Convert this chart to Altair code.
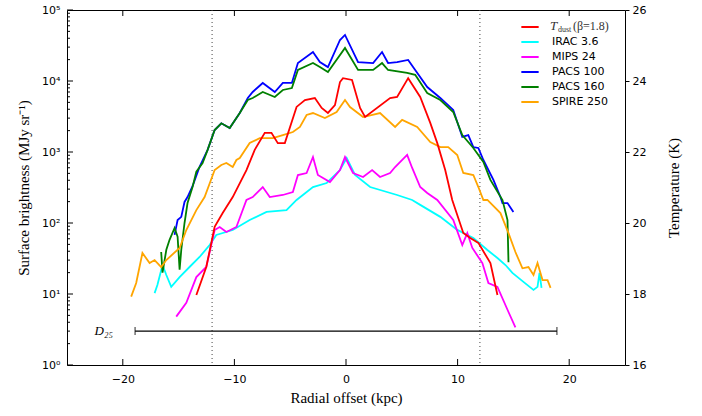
import altair as alt
import pandas as pd

# ---------------- data ----------------
irac_x = [-17.15, -16.9, -16.44, -16.1, -15.66, -14.91, -14.02, -13.12, -12.22, -11.62, -10.15, -8.63, -7.12,
          -5.33, -4.43, -2.96, -1.73, -0.54, 0.06, 0.81, 2.16, 4.58, 5.93, 6.65, 8.45, 9.97, 11.41, 12.67,
          13.57, 14.29, 14.91, 15.9, 16.8, 17.16, 17.34, 17.52]
irac_v = [10.3, 13.4, 25.6, 18.5, 12.6, 17.3, 24, 33.2, 49, 67.8, 79.6, 110, 143, 152, 211, 321, 366, 557, 822,
          474, 321, 248, 211, 180, 122, 80, 61.5, 41.7, 32.1, 25.6, 19.8, 14.8, 11.4, 12.6, 19.8, 12.2]

mips_x = [-15.21, -14.31, -13.41, -12.52, -11.77, -11.32, -10.72, -9.82, -8.92, -8.36, -7.46, -6.83, -5.66, -4.76,
          -4.31, -3.53, -2.96, -2.52, -1.44, -0.54, -0.09, 0.63, 1.53, 2.34, 3.05, 3.95, 4.40, 5.48, 5.93, 6.65,
          7.28, 8.18, 9.61, 10.42, 10.87, 11.32, 12.22, 12.76, 13.57, 14.47, 15.18]
mips_v = [4.8, 7.5, 17.3, 24, 79.6, 87.9, 74.6, 87.9, 211, 232, 321, 232, 248, 273, 474, 506, 851, 474, 378, 557,
          851, 506, 445, 557, 445, 506, 615, 908, 596, 321, 265, 211, 110, 49, 72, 44.5, 27.3, 14.3, 12.6, 6, 3.4]

pacs100_x = [-15.36, -15.09, -14.76, -14.47, -14.2, -13.75, -13.12, -12.4, -11.77, -11.17, -10.42, -9.52, -8.8,
             -8.36, -7.46, -6.38, -5.66, -4.85, -4.31, -2.96, -2.34, -1.62, -0.54, -0.09, 1.08, 2.43, 3.23, 3.77,
             4.58, 5.57, 6.2, 7.28, 8.45, 9.61, 10.42, 10.96, 11.41, 11.86, 12.31, 13.21, 13.84, 14.02, 14.47, 15.0]
pacs100_v = [68, 110, 122, 198, 232, 330, 620, 1070, 2040, 2540, 2180, 3540, 5770, 7000, 9380, 7000, 9380, 9380,
             17900, 25600, 18500, 15700, 37800, 44500, 18500, 17900, 25600, 17900, 18500, 19800, 14300, 8220,
             5770, 3910, 1630, 1730, 1170, 1140, 771, 404, 232, 191, 191, 143]

pacs160_x = [-16.56, -16.44, -16.1, -15.81, -15.36, -15.09, -14.91, -14.76, -14.47, -14.2, -13.75, -13.41, -12.85,
             -12.4, -11.77, -11.17, -10.42, -9.52, -8.8, -8.36, -7.46, -6.38, -5.66, -4.85, -4.31, -2.96, -2.34,
             -1.62, -0.09, 1.08, 2.43, 3.23, 3.77, 5.48, 6.2, 7.28, 8.45, 9.61, 10.42, 11.41, 12.31, 12.94, 14.02,
             14.47, 14.56]
pacs160_v = [39, 20, 42, 58, 85, 64, 22, 42, 100, 191, 321, 528, 700, 1070, 2040, 2540, 2180, 3540, 5400, 5770,
             7000, 5960, 7470, 7960, 14300, 17900, 15700, 13400, 29200, 14300, 14300, 17900, 14300, 13000, 12200,
             6780, 5400, 3660, 1730, 1140, 723, 404, 211, 110, 28]

spire_x = [-19.25, -18.8, -18.24, -17.6, -17.15, -16.56, -16.1, -14.91, -14.31, -13.41, -12.67, -11.77, -11.17,
           -10.72, -10.15, -9.82, -9.52, -8.63, -7.73, -6.56, -5.66, -4.76, -4.13, -3.53, -2.96, -1.89, -0.84,
           -0.09, 0.36, 1.53, 3.05, 4.40, 5.03, 6.38, 7.55, 8.45, 9.16, 9.97, 10.51, 11.41, 11.86, 12.31, 12.67,
           13.84, 14.56, 15.18, 15.81, 16.35, 16.8, 17.16, 17.61, 18.06, 18.33]
spire_v = [9.2, 14.3, 37.8, 27.3, 30.1, 24, 30.1, 44.5, 79.6, 152, 232, 557, 656, 700, 615, 771, 822, 1340, 1570,
           1570, 1730, 1910, 2250, 3320, 3540, 3010, 3660, 5400, 4300, 3110, 3540, 2250, 2830, 2250, 1380, 1170,
           1170, 908, 506, 474, 321, 211, 211, 138, 72, 39, 23, 24, 18.5, 27.3, 15.7, 15.7, 12.2]

tdust_x = [-13.41, -12.52, -11.77, -11.05, -10.15, -8.92, -8.18, -7.28, -6.68, -6.11, -5.48, -4.43, -3.68, -2.79,
           -2.18, -1.62, -0.99, -0.54, -0.27, 0.54, 1.26, 1.71, 3.95, 4.58, 5.57, 6.65, 7.55, 8.18, 8.89, 9.52,
           10.51, 11.14, 11.86, 12.94, 13.57]
tdust_t = [17.97, 18.76, 19.89, 20.28, 20.73, 21.49, 22.06, 22.54, 22.54, 22.25, 22.25, 23.27, 23.46, 23.52,
           23.24, 23.10, 23.32, 23.97, 24.08, 24.03, 23.24, 22.99, 23.52, 23.55, 24.08, 23.55, 22.82, 22.25,
           21.49, 20.65, 19.72, 19.58, 19.44, 18.87, 17.97]

series_names = ["T_dust", "IRAC 3.6", "MIPS 24", "PACS 100", "PACS 160", "SPIRE 250"]
series_colors = ["#ff0000", "#00ffff", "#ff00ff", "#0000ff", "#008000", "#ffa500"]

d25_start, d25_end, d25_level = -18.9, 18.9, 3.0
d25_label_x = -21.7
r25_lines = [-12.0, 12.0]

x_ticks = [-20, -10, 0, 10, 20]
y_major = [1, 10, 100, 1000, 10000, 100000]
y_minor = [m * 10 ** k for k in range(5) for m in range(2, 10)]
t_ticks = [16, 18, 20, 22, 24, 26]

# ---------------- encodings ----------------
SERIF = "Liberation Serif"
SANS = "DejaVu Sans"

color = alt.Color(
    "series:N",
    scale=alt.Scale(domain=series_names, range=series_colors),
    legend=alt.Legend(
        title=None, orient="none", legendX=453, legendY=7, symbolType="stroke",
        symbolSize=300, symbolStrokeWidth=2, labelFont=SANS, labelFontSize=11,
        labelColor="black", rowPadding=0, padding=0, labelOffset=12,
        labelExpr="datum.label == 'T_dust' ? '' : datum.label",
    ),
)

x_enc = alt.X(
    "x:Q",
    scale=alt.Scale(domain=[-25, 25], nice=False, zero=False),
    axis=alt.Axis(values=x_ticks, tickSize=0, labelPadding=8, grid=False, domain=False,
                  title="Radial offset (kpc)", titlePadding=6),
)

y_enc = alt.Y(
    "v:Q",
    scale=alt.Scale(type="log", domain=[1, 100000], nice=False),
    axis=alt.Axis(values=y_major, tickSize=0, labelPadding=7, grid=False, domain=False,
                  labelExpr="'10' + ['⁰','¹','²','³','⁴','⁵'][round(log(datum.value)/LN10)]",
                  title="Surface brightness (MJy sr⁻¹)", titlePadding=10),
)


def bright_df(name, xs, vs):
    return pd.DataFrame({"series": name, "x": xs, "v": vs})


def bright_line(df):
    return alt.Chart(df).mark_line(strokeWidth=1.8).encode(x=x_enc, y=y_enc, color=color)


lines = [
    bright_line(bright_df("IRAC 3.6", irac_x, irac_v)),
    bright_line(bright_df("MIPS 24", mips_x, mips_v)),
    bright_line(bright_df("PACS 100", pacs100_x, pacs100_v)),
    bright_line(bright_df("PACS 160", pacs160_x, pacs160_v)),
    bright_line(bright_df("SPIRE 250", spire_x, spire_v)),
]

# inward ticks (matplotlib style)
ymaj_df = pd.DataFrame({"v": y_major})
ymin_df = pd.DataFrame({"v": y_minor})
xt_df = pd.DataFrame({"x": x_ticks})

ymaj_ticks = alt.Chart(ymaj_df).mark_rule(color="black", strokeWidth=1).encode(
    y=y_enc, x=alt.value(0), x2=alt.value(6))
ymin_ticks = alt.Chart(ymin_df).mark_rule(color="black", strokeWidth=1).encode(
    y=y_enc, x=alt.value(0), x2=alt.value(3))
xb_ticks = alt.Chart(xt_df).mark_rule(color="black", strokeWidth=1).encode(
    x=x_enc, y=alt.value(355), y2=alt.value(349))
xt_ticks = alt.Chart(xt_df).mark_rule(color="black", strokeWidth=1).encode(
    x=x_enc, y=alt.value(0), y2=alt.value(6))

# R25 dotted lines
r25 = alt.Chart(pd.DataFrame({"x": r25_lines})).mark_rule(
    color="#444444", strokeWidth=1, strokeDash=[1, 3]).encode(x=x_enc)

# D25 bar
d25_df = pd.DataFrame({"x": [d25_start], "x2": [d25_end], "v": [d25_level]})
d25_rule = alt.Chart(d25_df).mark_rule(color="black", strokeWidth=1.2).encode(
    x=x_enc, x2="x2:Q", y=y_enc)
caps_df = pd.DataFrame({"x": [d25_start, d25_end], "v": [d25_level, d25_level]})
d25_caps = alt.Chart(caps_df).mark_tick(color="black", orient="vertical", size=8, thickness=1.2).encode(
    x=x_enc, y=y_enc)
lab_df = pd.DataFrame({"x": [d25_label_x], "v": [d25_level], "t": ["D₂₅"]})
d25_lab = alt.Chart(lab_df).mark_text(font=SERIF, fontStyle="italic", fontSize=13,
                                      color="black", align="center", baseline="middle").encode(
    x=x_enc, y=y_enc, text="t:N")

inner = alt.layer(r25, *lines, d25_rule, d25_caps, d25_lab,
                  ymaj_ticks, ymin_ticks, xb_ticks, xt_ticks)

# Temperature on the right axis
t_df = pd.DataFrame({"series": "T_dust", "x": tdust_x, "t": tdust_t})
t_line = alt.Chart(t_df).mark_line(strokeWidth=1.8).encode(
    x=x_enc,
    y=alt.Y("t:Q", scale=alt.Scale(domain=[16, 26], nice=False, zero=False),
            axis=alt.Axis(orient="right", values=t_ticks, tickSize=4, labelPadding=3,
                          grid=False, domain=False, title="Temperature (K)",
                          titleAngle=270, titlePadding=36)),
    color=color,
)

# legend label for T_dust with subscript
one = pd.DataFrame({"a": [0]})
leg_T = alt.Chart(one).mark_text(font=SERIF, fontStyle="italic", fontSize=13, align="left",
                                 baseline="middle", color="#333333").encode(
    x=alt.value(483), y=alt.value(16), text=alt.value("T"))
leg_dust = alt.Chart(one).mark_text(font=SERIF, fontSize=8, align="left",
                                    baseline="middle", color="#333333").encode(
    x=alt.value(491), y=alt.value(20), text=alt.value("dust"))
leg_beta = alt.Chart(one).mark_text(font=SERIF, fontSize=12, align="left",
                                    baseline="middle", color="#333333").encode(
    x=alt.value(506), y=alt.value(16), text=alt.value("(β=1.8)"))

chart = alt.layer(inner, t_line, leg_T, leg_dust, leg_beta).resolve_scale(
    y="independent"
).properties(
    width=558, height=355,
    autosize=alt.AutoSizeParams(type="none"),
    padding={"left": 67, "top": 10, "right": 77, "bottom": 51},
    background="white",
).configure_view(
    stroke="black", strokeWidth=1
).configure_axis(
    labelFont=SANS, labelFontSize=11, labelColor="black",
    titleFont=SERIF, titleFontSize=15, titleFontWeight="normal", titleColor="black",
    tickColor="black",
)

chart.save("out.html", embed_options={"renderer": "svg", "actions": False})
